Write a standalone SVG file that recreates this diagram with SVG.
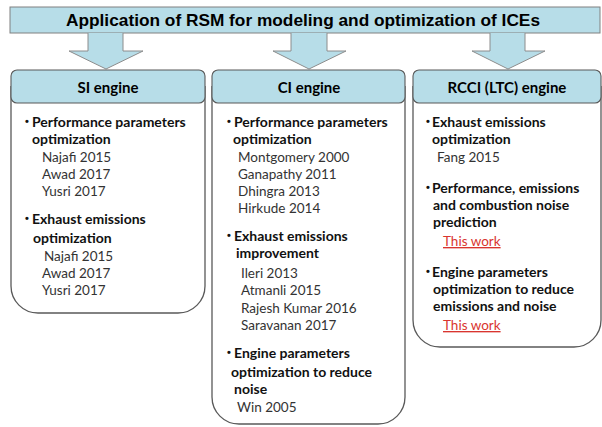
<svg xmlns="http://www.w3.org/2000/svg" width="602" height="427" viewBox="0 0 602 427">
<defs>
<style>
.bar{fill:#b7dde8;stroke:#808080;stroke-width:1}
.arrow{fill:#b7dde8;stroke:#8c8c8c;stroke-width:1}
.body{fill:#ffffff;stroke:#595959;stroke-width:1.3}
.head{fill:#b7dde8;stroke:#595959;stroke-width:1.1}
.title{font-family:"Liberation Sans",Arial,sans-serif;font-weight:bold;font-size:16.5px;fill:#000;text-anchor:middle}
.ht{font-family:Lato,"Open Sans",sans-serif;font-weight:bold;font-size:15px;fill:#000;text-anchor:middle}
.b{font-family:Lato,"Open Sans",sans-serif;font-weight:bold;font-size:14px;fill:#111}
.bu{font-family:"Liberation Sans",Arial,sans-serif;font-weight:bold;font-size:11px;fill:#111}
.r{font-family:Lato,"Open Sans",sans-serif;font-size:13.5px;fill:#333}
.red{font-family:Lato,"Open Sans",sans-serif;font-size:13.5px;fill:#d9352f;text-decoration:underline}
</style>
</defs>
<rect width="602" height="427" fill="#ffffff"/>
<g id="title">
<rect class="bar" x="10" y="7" width="590" height="26"/>
<text class="title" x="303" y="26" textLength="474" lengthAdjust="spacingAndGlyphs">Application of RSM for modeling and optimization of ICEs</text>
</g>
<g id="connectors">
<path class="arrow" d="M88,33 V51 H69 L106,69 L143,51 H123 V33"/>
<path class="arrow" d="M291,33 V51 H273 L309,69 L346,51 H327 V33"/>
<path class="arrow" d="M490,33 V51 H472 L508,69 L545,51 H525 V33"/>
</g>
<g id="si">
<path class="body" d="M11,86 V286 A27,27 0 0 0 38,313 H178 A27,27 0 0 0 205,286 V86"/>
<rect class="head" x="11" y="70" width="194" height="33" rx="6"/>
<text class="ht" x="108" y="93">SI engine</text>
<text class="bu" x="25" y="125">•</text>
<text class="b" x="32" y="127">Performance parameters</text>
<text class="b" x="32" y="144">optimization</text>
<text class="r" x="42" y="162">Najafi 2015</text>
<text class="r" x="42" y="179">Awad 2017</text>
<text class="r" x="42" y="196">Yusri 2017</text>
<text class="bu" x="25" y="222">•</text>
<text class="b" x="32" y="224">Exhaust emissions</text>
<text class="b" x="33" y="243">optimization</text>
<text class="r" x="44" y="261">Najafi 2015</text>
<text class="r" x="42" y="278">Awad 2017</text>
<text class="r" x="42" y="295">Yusri 2017</text>
</g>
<g id="ci">
<path class="body" d="M212,86 V397 A27,27 0 0 0 239,424 H378 A27,27 0 0 0 405,397 V86"/>
<rect class="head" x="212" y="70" width="193" height="33" rx="6"/>
<text class="ht" x="309" y="93">CI engine</text>
<text class="bu" x="227" y="125">•</text>
<text class="b" x="234" y="127">Performance parameters</text>
<text class="b" x="233" y="144">optimization</text>
<text class="r" x="238" y="162">Montgomery 2000</text>
<text class="r" x="238" y="179">Ganapathy 2011</text>
<text class="r" x="238" y="196">Dhingra 2013</text>
<text class="r" x="238" y="213">Hirkude 2014</text>
<text class="bu" x="227" y="239">•</text>
<text class="b" x="234" y="241">Exhaust emissions</text>
<text class="b" x="236" y="258">improvement</text>
<text class="r" x="241" y="278">Ileri 2013</text>
<text class="r" x="241" y="295">Atmanli 2015</text>
<text class="r" x="241" y="313">Rajesh Kumar 2016</text>
<text class="r" x="241" y="330">Saravanan 2017</text>
<text class="bu" x="227" y="356">•</text>
<text class="b" x="234" y="358">Engine parameters</text>
<text class="b" x="231" y="377">optimization to reduce</text>
<text class="b" x="234" y="394">noise</text>
<text class="r" x="237" y="412">Win 2005</text>
</g>
<g id="rcci">
<path class="body" d="M413,86 V320 A27,27 0 0 0 440,347 H574 A27,27 0 0 0 601,320 V86"/>
<rect class="head" x="413" y="70" width="188" height="33" rx="6"/>
<text class="ht" x="507" y="93">RCCI (LTC) engine</text>
<text class="bu" x="426" y="125">•</text>
<text class="b" x="432" y="127">Exhaust emissions</text>
<text class="b" x="432" y="144">optimization</text>
<text class="r" x="437" y="162">Fang 2015</text>
<text class="bu" x="426" y="191">•</text>
<text class="b" x="432" y="193">Performance, emissions</text>
<text class="b" x="433" y="210">and combustion noise</text>
<text class="b" x="433" y="227">prediction</text>
<text class="red" x="443" y="246">This work</text>
<text class="bu" x="426" y="275">•</text>
<text class="b" x="432" y="277">Engine parameters</text>
<text class="b" x="433" y="294">optimization to reduce</text>
<text class="b" x="433" y="311">emissions and noise</text>
<text class="red" x="443" y="330">This work</text>
</g>
</svg>
